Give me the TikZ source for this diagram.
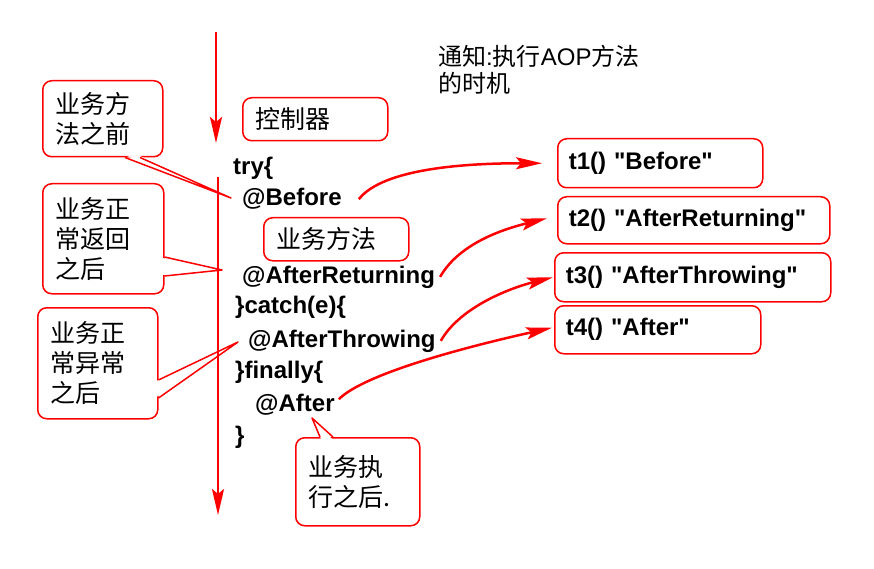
\documentclass[tikz,border=0pt]{standalone}
\usepackage{fontspec}
\setmainfont{Liberation Sans}[Ligatures=TeXOff]
\newfontfamily\cjk{Noto Sans CJK SC}
\usetikzlibrary{positioning, arrows.meta, calc}

\begin{document}
\begin{tikzpicture}[
        x=1pt, y=-1pt,
        callbox/.style={draw=red, line width=1.5pt, rounded corners=9pt, fill=white, anchor=north west, align=left, inner xsep=13pt, inner ysep=0pt, font=\cjk\fontsize{25}{30}\selectfont},
        advbox/.style={draw=red, line width=1.5pt, rounded corners=9pt, fill=white, anchor=north west, align=left, inner xsep=11pt, inner ysep=0pt, font=\bfseries\fontsize{24}{28}\selectfont},
        codeline/.style={anchor=base west, inner sep=0pt, font=\bfseries\fontsize{24}{28}\selectfont},
        flow/.style={-{Stealth[length=26pt, width=12pt, inset=5pt]}, red, line width=2.5pt},
        arrow/.style={-{Stealth[length=26pt, width=12pt, inset=5pt]}, red, line width=2.5pt},
        tail/.style={red, line width=1.5pt, line join=round}
    ]

    \useasboundingbox (0,0) rectangle (874,569);

    % callouts on the left and in the code
    \node[callbox, text width=94pt, minimum height=76pt] (mbefore) at (42,80) {业务方\\法之前};
    \node[callbox, text width=95pt, minimum height=110pt] (mreturn) at (42,183) {业务正\\常返回\\之后};
    \node[callbox, text width=94pt, minimum height=111pt] (mthrow) at (37,307) {业务正\\常异常\\之后};
    \node[callbox, text width=119pt, minimum height=43pt] (ctrl) at (242,97) {控制器};
    \node[callbox, text width=119pt, minimum height=43pt] (service) at (263,217) {业务方法};
    \node[callbox, text width=98pt, minimum height=88pt] (mafter) at (295,437) {业务执\\行之后.};

    % pointer tips
    \coordinate (tbefore) at (231,198);
    \coordinate (treturn) at (222,270);
    \coordinate (tthrow) at (238,342);
    \coordinate (tafter) at (312,418);

    \fill[white] ($(mbefore.south west)+(84,-2)$) -- (tbefore) -- ($(mbefore.south west)+(97,-2)$) -- cycle;
    \draw[tail] ($(mbefore.south west)+(83,0)$) -- (tbefore) -- ($(mbefore.south west)+(98,0)$);
    \fill[white] ($(mreturn.north east)+(-2,75)$) -- (treturn) -- ($(mreturn.north east)+(-2,92)$) -- cycle;
    \draw[tail] ($(mreturn.north east)+(0,74)$) -- (treturn) -- ($(mreturn.north east)+(0,93)$);
    \fill[white] ($(mthrow.north east)+(-2,74)$) -- (tthrow) -- ($(mthrow.north east)+(-2,90)$) -- cycle;
    \draw[tail] ($(mthrow.north east)+(0,73)$) -- (tthrow) -- ($(mthrow.north east)+(0,91)$);
    \fill[white] ($(mafter.north west)+(26,2)$) -- (tafter) -- ($(mafter.north west)+(37,2)$) -- cycle;
    \draw[tail] ($(mafter.north west)+(25,0)$) -- (tafter) -- ($(mafter.north west)+(38,0)$);

    % code
    \node[codeline] (try) at (233,175) {try\{};
    \node[codeline] (before) at (242,206) {@Before};
    \node[codeline] (returning) at (242,283) {@AfterReturning};
    \node[codeline] (catch) at (235,313) {\}catch(e)\{};
    \node[codeline] (throwing) at (248,347) {@AfterThrowing};
    \node[codeline] (finally) at (235,378) {\}finally\{};
    \node[codeline] (after) at (255,411) {@After};
    \node[codeline] (close) at (235,443) {\}};

    % advice methods
    \node[advbox, text width=183pt, minimum height=49pt] (t1) at (557,138) {t1() "Before"};
    \node[advbox, text width=250pt, minimum height=47pt] (t2) at (557,196) {t2() "AfterReturning"};
    \node[advbox, text width=254pt, minimum height=49pt] (t3) at (554,252) {t3() "AfterThrowing"};
    \node[advbox, text width=184pt, minimum height=48pt] (t4) at (554,305) {t4() "After"};

    \node[anchor=north west, align=left, inner sep=0pt, font=\fontsize{24}{27}\selectfont] (title) at (438,45) {{\cjk 通知}:{\cjk 执行}AOP{\cjk 方法}\\{\cjk 的时机}};

    \draw[arrow] ([xshift=17pt]before.east) .. controls +(25,-32) and +(-70,0) .. ([xshift=-15pt]t1.west);
    \draw[arrow] ([xshift=5pt]returning.east) .. controls +(20,-35) and +(-40,10) .. ([xshift=-10pt, yshift=2pt]t2.west);
    \draw[arrow] ([xshift=5pt]throwing.east) .. controls +(20,-35) and +(-40,10) .. ([xshift=-1pt]t3.west);
    \draw[arrow] ([xshift=4pt, yshift=5pt]after.east) .. controls +(25,-25) and +(-90,20) .. ([xshift=-2pt, yshift=2pt]t4.west);

    % flow of control
    \coordinate (entry) at (216,32);
    \coordinate (entryend) at (216,143);
    \coordinate (bodytop) at (218,177);
    \coordinate (bodyend) at (218,515);
    \draw[flow] (entry) -- (entryend);
    \draw[flow] (bodytop) -- (bodyend);

\end{tikzpicture}
\end{document}
